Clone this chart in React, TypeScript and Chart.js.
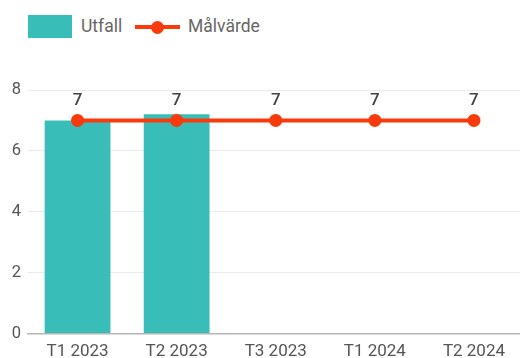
import React, { useEffect, useRef } from "react";
import { Chart, registerables } from "chart.js";

Chart.register(...registerables);

const categories = ["T1 2023", "T2 2023", "T3 2023", "T1 2024", "T2 2024"];
const utfall = [7, 7.2, null, null, null];
const malvarde = [7, 7, 7, 7, 7];
const yTicks = [0, 2, 4, 6, 8];

const BAR_COLOR = "#38bdb8";
const LINE_COLOR = "#f83a0c";
const FONT = "Roboto";

const valueLabels = {
  id: "valueLabels",
  afterDatasetsDraw(chart: any) {
    const ctx = chart.ctx;
    const meta = chart.getDatasetMeta(1);
    ctx.save();
    ctx.font = `500 17px ${FONT}`;
    ctx.fillStyle = "#444";
    ctx.textAlign = "center";
    ctx.textBaseline = "middle";
    meta.data.forEach((pt: any, i: number) => {
      const v = malvarde[i];
      ctx.fillText(String(Math.round(v)), pt.x, pt.y - 20);
    });
    ctx.restore();
  },
};

export default function App() {
  const ref = useRef<HTMLCanvasElement | null>(null);
  useEffect(() => {
    if (!ref.current) return;
    const chart = new Chart(ref.current, {
      type: "bar",
      data: {
        labels: categories,
        datasets: [
          {
            type: "bar",
            label: "Utfall",
            data: utfall as any,
            backgroundColor: BAR_COLOR,
            barPercentage: 0.83,
            categoryPercentage: 0.8,
            order: 2,
          },
          {
            type: "line",
            label: "Målvärde",
            data: malvarde,
            borderColor: LINE_COLOR,
            backgroundColor: LINE_COLOR,
            borderWidth: 4,
            pointRadius: 6.5,
            pointBackgroundColor: LINE_COLOR,
            pointBorderWidth: 0,
            order: 1,
          } as any,
        ],
      },
      options: {
        animation: false,
        responsive: false,
        maintainAspectRatio: false,
        layout: { padding: { top: 30, left: 0, right: 0, bottom: 0 } },
        plugins: {
          legend: { display: false },
          tooltip: { enabled: false },
        },
        scales: {
          x: {
            grid: { display: false, drawTicks: false },
            border: { display: true, color: "#b5b5b5", width: 1.5 },
            ticks: {
              color: "#555",
              font: { family: FONT, size: 17 },
              padding: 8,
              maxRotation: 0,
            },
          },
          y: {
            min: 0,
            max: 8,
            afterBuildTicks: (scale: any) => {
              scale.ticks = yTicks.map((v) => ({ value: v }));
            },
            afterFit: (scale: any) => {
              scale.width = 28;
            },
            grid: { color: "#ebebeb", drawTicks: false },
            border: { display: false },
            ticks: {
              color: "#555",
              font: { family: FONT, size: 16.5 },
              padding: 7,
            },
          },
        },
      },
      plugins: [valueLabels],
    });
    return () => chart.destroy();
  }, []);

  return (
    <div style={{ position: "absolute", left: 0, top: 0, width: 530, height: 372, background: "#fff", fontFamily: FONT, overflow: "hidden" }}>
      <div style={{ position: "absolute", left: 28, top: 15, width: 44, height: 23, background: BAR_COLOR }} />
      <div style={{ position: "absolute", left: 81, top: 14, fontSize: 17.5, lineHeight: "24px", color: "#666" }}>Utfall</div>
      <div style={{ position: "absolute", left: 135, top: 25, width: 45, height: 4, background: LINE_COLOR }} />
      <div style={{ position: "absolute", left: 151, top: 20.5, width: 13, height: 13, borderRadius: "50%", background: LINE_COLOR }} />
      <div style={{ position: "absolute", left: 188, top: 14, fontSize: 17.5, lineHeight: "24px", color: "#666" }}>Målvärde</div>
      <canvas ref={ref} width={530} height={310} style={{ position: "absolute", left: 0, top: 60, width: 530, height: 310 }} />
    </div>
  );
}
